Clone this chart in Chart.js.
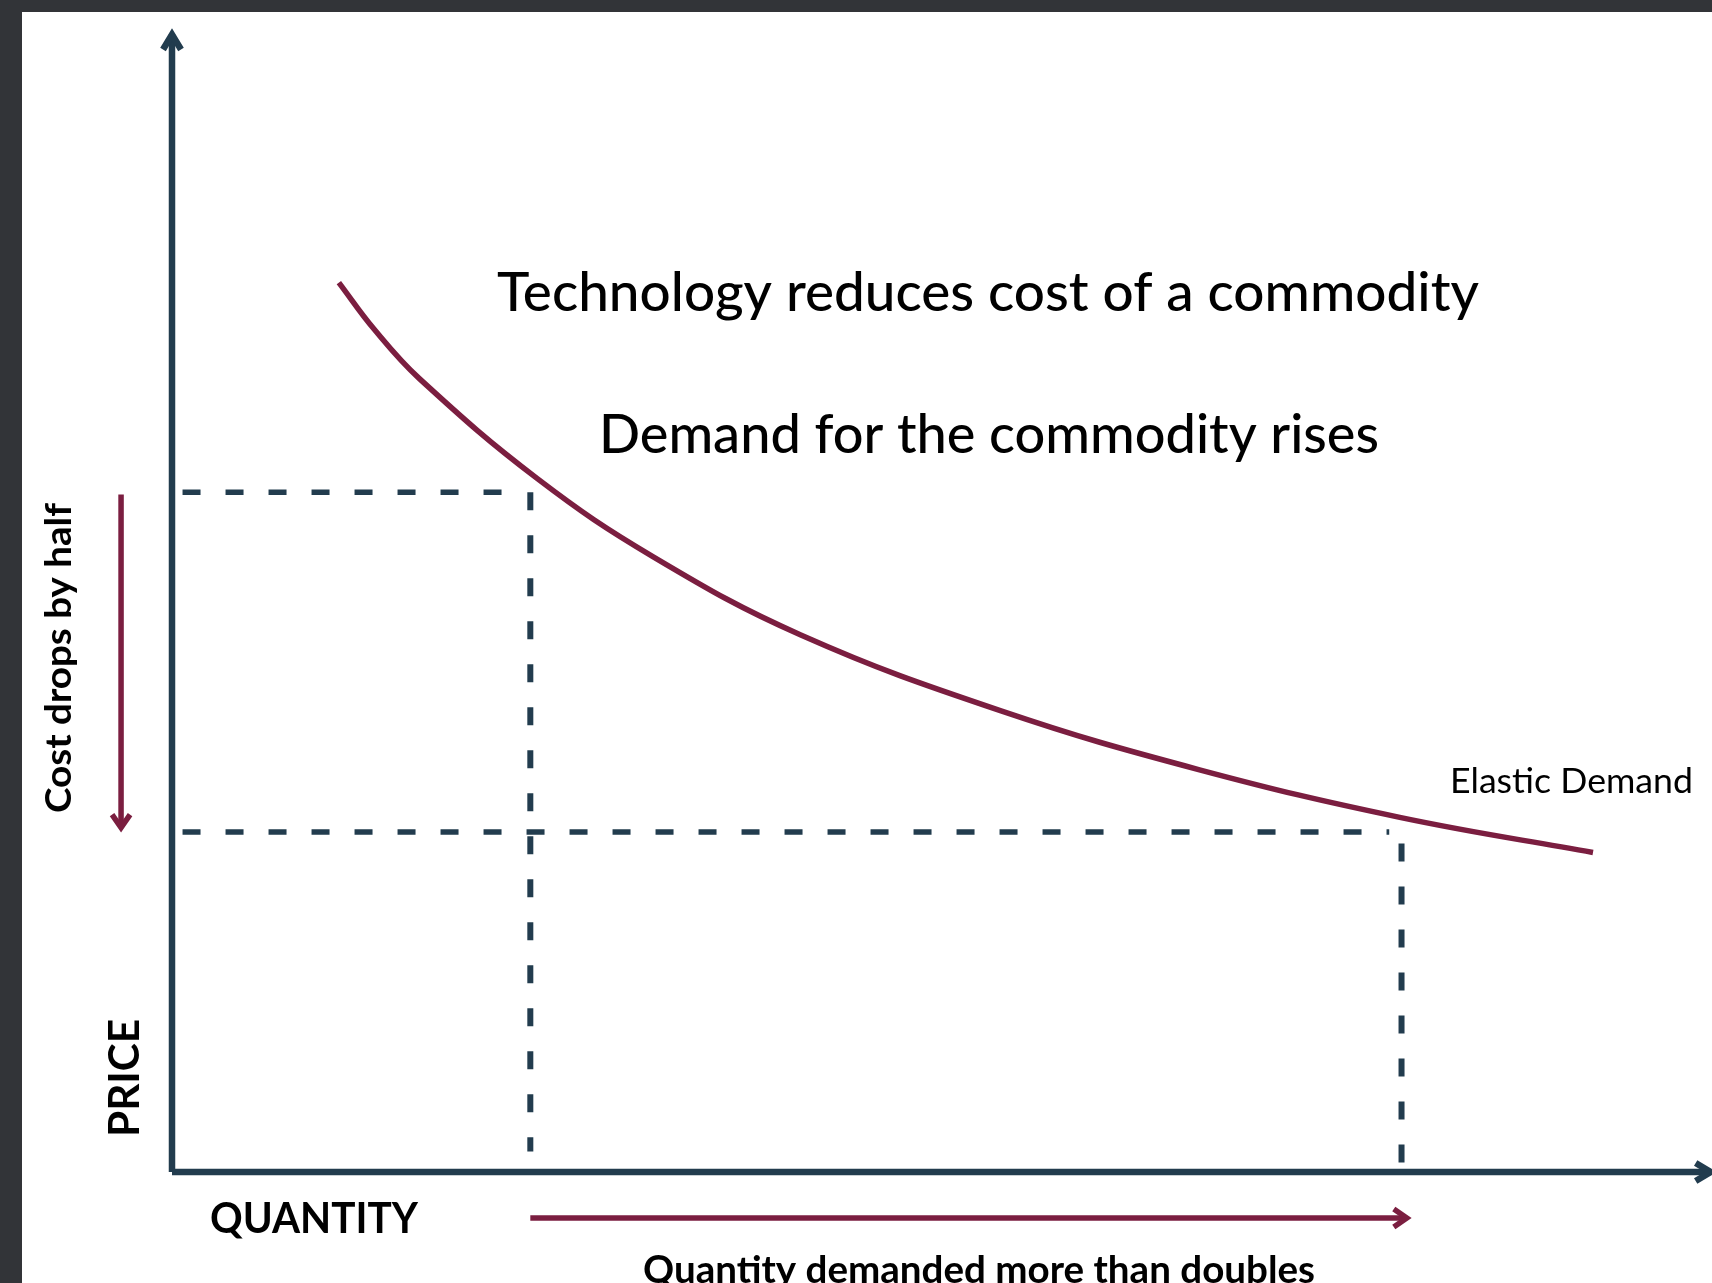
<!DOCTYPE html>
<html>
<head>
<meta charset="utf-8">
<script src="https://cdn.jsdelivr.net/npm/chart.js@4"></script>
<style>
  html, body { margin: 0; padding: 0; overflow: hidden; background: #ffffff; }
  #wrap { width: 1712px; height: 1283px; position: relative; }
</style>
</head>
<body>
<div id="wrap"><canvas id="myChart"></canvas></div>
<script>
// demand curve (quantity, price)
const demandQty   = [0.95, 1.15, 1.41, 2.08, 2.74, 3.58, 4.72, 5.85, 6.99, 8.09];
const demandPrice = [7.85, 7.44, 7.00, 6.12, 5.43, 4.74, 4.07, 3.55, 3.13, 2.82];

// price before / after, quantity before / after
const priceLevels = [6.0, 3.0];
const qtyLevels   = [2.04, 7.0];

// dashed guide extents
const hGuideStart  = [0.06, 0.06];
const hGuideEnd    = [1.90, 6.93];
const vGuideTop    = [6.0, 2.90];
const vGuideBottom = [0.18, 0.05];

// axes extents
const axisQtyEnd   = 8.76;
const axisPriceEnd = 10.04;

// red arrows
const costArrowQty   = [-0.29, -0.29];
const costArrowPrice = [5.98, 3.04];
const qtyArrowQty    = [2.04, 7.03];
const qtyArrowPrice  = [-0.405, -0.405];

const axisColor = '#223c4e';
const curveColor = '#7b1e40';

function pts(xs, ys) {
    return xs.map((x, i) => ({x: x, y: ys[i]}));
}

function lineSet(data, color, width, extra) {
    return Object.assign({
        data: data,
        showLine: true,
        borderColor: color,
        backgroundColor: color,
        borderWidth: width,
        pointRadius: 0,
        fill: false,
        clip: false
    }, extra || {});
}

const datasets = [
    // axes
    lineSet(pts([0, 0], [0, axisPriceEnd]), axisColor, 6.5, {arrowHead: {len: 15, half: 9}}),
    lineSet(pts([0, axisQtyEnd], [0, 0]), axisColor, 6.5, {arrowHead: {len: 15, half: 9}}),
    // dashed guides
    lineSet(pts([hGuideStart[0], hGuideEnd[0]], [priceLevels[0], priceLevels[0]]), axisColor, 5.5, {borderDash: [18, 25]}),
    lineSet(pts([hGuideStart[1], hGuideEnd[1]], [priceLevels[1], priceLevels[1]]), axisColor, 5.5, {borderDash: [18, 25]}),
    lineSet(pts([qtyLevels[0], qtyLevels[0]], [vGuideTop[0], vGuideBottom[0]]), axisColor, 6, {borderDash: [18, 25]}),
    lineSet(pts([qtyLevels[1], qtyLevels[1]], [vGuideTop[1], vGuideBottom[1]]), axisColor, 6, {borderDash: [18, 25]}),
    // demand curve
    lineSet(pts(demandQty, demandPrice), curveColor, 5.5, {tension: 0.4}),
    // red arrows
    lineSet(pts(costArrowQty, costArrowPrice), curveColor, 5.5, {arrowHead: {len: 13, half: 9}}),
    lineSet(pts(qtyArrowQty, qtyArrowPrice), curveColor, 5.5, {arrowHead: {len: 13, half: 9}})
];

// dark frame at top / left like the screenshot
const frame = {
    id: 'frame',
    beforeDraw(chart) {
        const ctx = chart.ctx;
        ctx.save();
        ctx.fillStyle = '#323438';
        ctx.fillRect(0, 0, chart.width, chart.height);
        ctx.fillStyle = '#ffffff';
        ctx.fillRect(22, 12, chart.width - 22, chart.height - 12);
        ctx.restore();
    }
};

// chevron heads on the last segment of a dataset
const arrowHeads = {
    id: 'arrowHeads',
    afterDatasetsDraw(chart) {
        const ctx = chart.ctx;
        chart.data.datasets.forEach((ds, i) => {
            if (!ds.arrowHead) return;
            const p = chart.getDatasetMeta(i).data;
            const a = p[p.length - 2], b = p[p.length - 1];
            const ang = Math.atan2(b.y - a.y, b.x - a.x);
            ctx.save();
            ctx.translate(b.x, b.y);
            ctx.rotate(ang);
            ctx.strokeStyle = ds.borderColor;
            ctx.lineWidth = ds.borderWidth;
            ctx.lineJoin = 'miter';
            ctx.beginPath();
            ctx.moveTo(-ds.arrowHead.len, -ds.arrowHead.half);
            ctx.lineTo(0, 0);
            ctx.lineTo(-ds.arrowHead.len, ds.arrowHead.half);
            ctx.stroke();
            ctx.restore();
        });
    }
};

// text squeezed/stretched to the width seen in the picture
function drawText(ctx, text, x, y, width, font, rot) {
    ctx.save();
    ctx.font = font;
    ctx.fillStyle = '#000000';
    ctx.textAlign = 'left';
    ctx.textBaseline = 'alphabetic';
    ctx.translate(x, y);
    if (rot) ctx.rotate(rot);
    const w = ctx.measureText(text).width;
    ctx.scale(width / w, 1);
    ctx.fillText(text, 0, 0);
    ctx.restore();
}

const labels = {
    id: 'labels',
    afterDraw(chart) {
        const ctx = chart.ctx;
        drawText(ctx, 'Technology reduces cost of a commodity', 497, 311, 982, '500 54px Lato');
        drawText(ctx, 'Demand for the commodity rises', 599, 453, 780, '500 54px Lato');
        drawText(ctx, 'Elastic Demand', 1450, 793, 243, '35px Lato');
        drawText(ctx, 'Cost drops by half', 71, 813, 310, 'bold 36px Lato', -Math.PI / 2);
        drawText(ctx, 'PRICE', 139, 1137, 118, 'bold 42px Lato', -Math.PI / 2);
        drawText(ctx, 'QUANTITY', 210, 1233, 208, 'bold 42px Lato');
        drawText(ctx, 'Quantity demanded more than doubles', 643, 1283, 672, 'bold 38px Lato');
    }
};

const ctx = document.getElementById('myChart');
new Chart(ctx, {
    type: 'scatter',
    data: { datasets: datasets },
    plugins: [frame, arrowHeads, labels],
    options: {
        responsive: true,
        maintainAspectRatio: false,
        animation: false,
        events: [],
        layout: {
            padding: { left: 172, right: 47, top: 39, bottom: 111 }
        },
        scales: {
            x: { type: 'linear', min: 0, max: 8.5, display: false },
            y: { type: 'linear', min: 0, max: 10, display: false }
        },
        plugins: {
            legend: { display: false },
            tooltip: { enabled: false }
        }
    }
});
</script>
</body>
</html>
